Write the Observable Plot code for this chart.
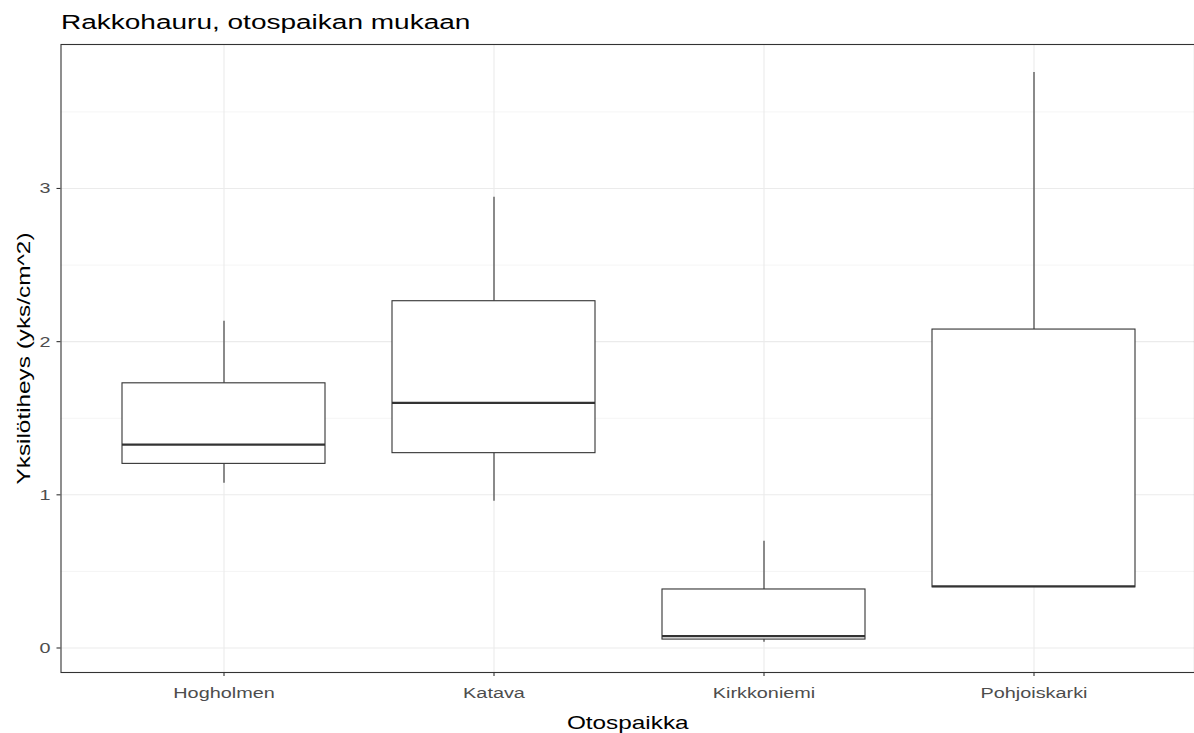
<!DOCTYPE html>
<html>
<head>
<meta charset="utf-8">
<script src="https://cdn.jsdelivr.net/npm/d3@7"></script>
<script src="https://cdn.jsdelivr.net/npm/@observablehq/plot@0.6"></script>
<style>
  html, body { margin: 0; padding: 0; background: #fff; overflow: hidden; }
  #title { font-family: "Liberation Sans", Arial, sans-serif; font-size: 20px; color: #000;
           height: 36px; line-height: 44px; padding-left: 61px; box-sizing: border-box; white-space: nowrap; overflow: visible; }
  #title span { display: inline-block; transform: scaleX(1.4); transform-origin: left center; }
  svg { display: block; }
</style>
</head>
<body>
<div id="title"><span>Rakkohauru, otospaikan mukaan</span></div>
<div id="chart"></div>
<script>
const sites = ["Hogholmen", "Katava", "Kirkkoniemi", "Pohjoiskarki"];
const lowerWhisker = [1.076, 0.958, 0.038, 0.396];
const q1 = [1.202, 1.272, 0.055, 0.396];
const median = [1.328, 1.600, 0.077, 0.403];
const q3 = [1.728, 2.264, 0.382, 2.079];
const upperWhisker = [2.133, 2.943, 0.697, 3.757];
const yTicks = [0, 1, 2, 3];
const yMinor = [0.5, 1.5, 2.5, 3.5];
const xTitle = "Otospaikka";
const yTitle = "Yksilötiheys (yks/cm^2)";

const data = sites.map((s, i) => ({site: s, lo: lowerWhisker[i], q1: q1[i], med: median[i], q3: q3[i], hi: upperWhisker[i]}));

const chart = Plot.plot({
  width: 1194,
  height: 697,
  marginTop: 8,
  marginBottom: 61,
  marginLeft: 60.5,
  marginRight: 0,
  style: {fontFamily: "'Liberation Sans', Arial, sans-serif", background: "white", overflow: "visible"},
  x: {domain: sites, range: [60.5, 1196.3], paddingInner: 0.25, paddingOuter: 0.225, axis: null},
  y: {domain: [-0.16, 3.94], axis: null},
  marks: [
    Plot.gridY(yMinor, {stroke: "#EBEBEB", strokeOpacity: 1, strokeWidth: 0.55}),
    Plot.gridY(yTicks, {stroke: "#EBEBEB", strokeOpacity: 1, strokeWidth: 1.1}),
    Plot.gridX(sites, {stroke: "#EBEBEB", strokeOpacity: 1, strokeWidth: 1.1}),
    Plot.ruleX(data, {x: "site", y1: "lo", y2: "q1", stroke: "#333333", strokeWidth: 1.1}),
    Plot.ruleX(data, {x: "site", y1: "q3", y2: "hi", stroke: "#333333", strokeWidth: 1.1}),
    Plot.barY(data, {x: "site", y1: "q1", y2: "q3", fill: "white", stroke: "#333333", strokeWidth: 1.1}),
    Plot.tickY(data, {x: "site", y: "med", stroke: "#333333", strokeWidth: 2.2}),
    Plot.frame({stroke: "#333333", strokeWidth: 1.1}),
    Plot.axisY(yTicks, {tickSize: 4, text: null, stroke: "#333333", strokeWidth: 1.1, label: null}),
    Plot.axisY(yTicks, {tickSize: 0, tickPadding: 10.5, fill: "#4D4D4D", fontSize: 15.5, label: null, tickFormat: d => `${d}`}),
    Plot.axisX(sites, {tickSize: 4, text: null, stroke: "#333333", strokeWidth: 1.1, label: null}),
    Plot.axisX(sites, {tickSize: 0, tickPadding: 14.5, fill: "#4D4D4D", fontSize: 15.5, label: null}),
    Plot.text([xTitle], {frameAnchor: "bottom", dy: 50, lineAnchor: "middle", textAnchor: "middle", fontSize: 19, fill: "black"}),
    Plot.text([yTitle], {frameAnchor: "left", dx: -36.8, rotate: -90, lineAnchor: "middle", textAnchor: "middle", fontSize: 19, fill: "black"})
  ]
});
document.getElementById("chart").appendChild(chart);
// widen glyphs to match the wider text rendering of the reference
chart.querySelectorAll("text").forEach(t => {
  const w = t.getComputedTextLength();
  if (w > 0) {
    t.setAttribute("textLength", (w * 1.28).toFixed(1));
    t.setAttribute("lengthAdjust", "spacingAndGlyphs");
  }
});
</script>
</body>
</html>
